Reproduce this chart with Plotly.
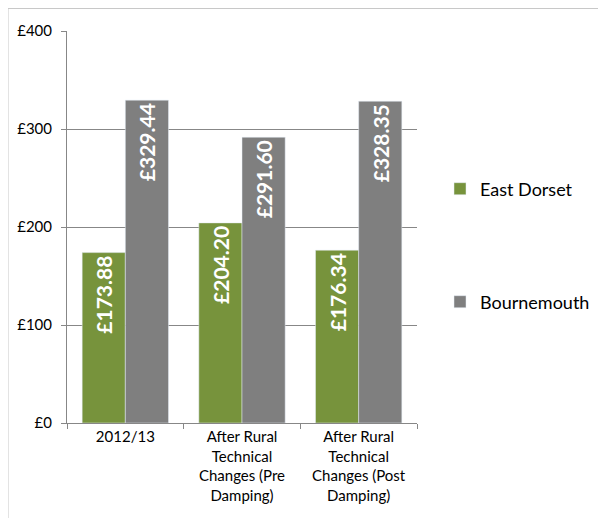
import plotly.graph_objects as go

categories = ["2012/13", "After Rural<br>Technical<br>Changes (Pre<br>Damping)", "After Rural<br>Technical<br>Changes (Post<br>Damping)"]
east_dorset = [173.88, 204.20, 176.34]
bournemouth = [329.44, 291.60, 328.35]
tick_vals = [0, 100, 200, 300, 400]
tick_text = ["£0", "£100", "£200", "£300", "£400"]

FONT = "Lato"
OFF = 8  # page body margin offset
W, H = 590, 510
L, R, T, B = 67 - OFF, 417 - OFF, 31 - OFF, 423 - OFF
pw, ph = R - L, B - T

fig = go.Figure()
fig.add_trace(go.Bar(
    x=categories, y=east_dorset, name="East Dorset", marker_color="#77933c",
    text=[f"£{v:.2f}" for v in east_dorset], textposition="inside", insidetextanchor="end",
    textangle=-90, textfont=dict(color="white", size=21, family=FONT, weight="bold"),
    legend="legend", showlegend=True,
))
fig.add_trace(go.Bar(
    x=categories, y=bournemouth, name="Bournemouth", marker_color="#7f7f7f",
    text=[f"£{v:.2f}" for v in bournemouth], textposition="inside", insidetextanchor="end",
    textangle=-90, textfont=dict(color="white", size=21, family=FONT, weight="bold"),
    legend="legend2", showlegend=True,
))
LX = 432
fig.update_layout(
    width=W, height=H, showlegend=True,
    margin=dict(l=L, r=W - R, t=T, b=H - B, autoexpand=False),
    plot_bgcolor="white", paper_bgcolor="white",
    barmode="group", bargap=0.26, bargroupgap=0,
    font=dict(family=FONT, size=14, color="black"),
    legend=dict(x=(LX - L) / pw, y=(T - (189 - OFF)) / ph + 1, xanchor="left", yanchor="middle",
                font=dict(size=18, family=FONT), itemwidth=30, bgcolor="rgba(0,0,0,0)"),
    legend2=dict(x=(LX - L) / pw, y=(T - (302 - OFF)) / ph + 1, xanchor="left", yanchor="middle",
                 font=dict(size=18, family=FONT), itemwidth=30, bgcolor="rgba(0,0,0,0)"),
    uniformtext=dict(minsize=8, mode="show"),
)
fig.update_yaxes(range=[0, 400], tickvals=tick_vals, ticktext=tick_text,
                 showgrid=True, gridcolor="#878787", gridwidth=1,
                 showline=True, linecolor="#878787", ticks="outside", ticklen=5,
                 tickcolor="#878787", zeroline=False, tickfont=dict(size=15),
                 ticklabelstandoff=6)
fig.update_xaxes(showline=True, linecolor="#878787", ticks="outside", ticklen=5,
                 tickcolor="#878787", tickson="boundaries", tickfont=dict(size=15))
# outer chart border (top and left visible)
fig.add_shape(type="rect", xref="paper", yref="paper",
              x0=(0 - L) / pw, x1=(W + 20 - L) / pw,
              y0=(B - (H + 20)) / ph, y1=(B - 0.5) / ph,
              line=dict(color="#c8c8c8", width=1), fillcolor="rgba(0,0,0,0)", layer="below")
fig.write_html("out.html")
